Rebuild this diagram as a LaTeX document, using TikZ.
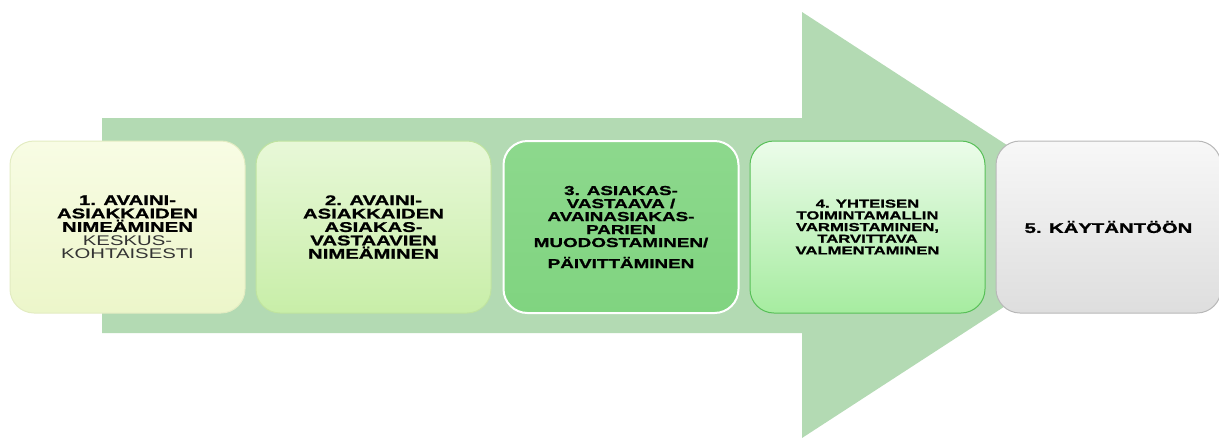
\documentclass[tikz,border=0pt]{standalone}
\usepackage{fontspec}
\newfontfamily\stepfont{Liberation Sans}[FakeStretch=1.45, BoldFeatures={FakeBold=1.2}]
\usetikzlibrary{positioning}

\definecolor{arrowgreen}{RGB}{179,218,179}
\definecolor{paleyellow}{RGB}{248,252,228}
\definecolor{paleyellowb}{RGB}{236,246,202}
\definecolor{palegreen}{RGB}{232,248,216}
\definecolor{palegreenb}{RGB}{200,238,168}
\definecolor{midgreen}{RGB}{128,212,128}
\definecolor{lightgreen}{RGB}{236,252,234}
\definecolor{lightgreenb}{RGB}{166,236,160}
\definecolor{darkgreen}{RGB}{88,192,88}

\tikzset{
    stepbox/.style 2 args={draw, rounded corners=24pt, minimum width=235pt,
        minimum height=172pt, align=center, inner sep=2pt, line width=1pt,
        font=\stepfont\bfseries\fontsize{#1}{#2}\selectfont},
}

\begin{document}
\begin{tikzpicture}[x=1pt,y=-1pt]
    \useasboundingbox (0,0) rectangle (1219,437);
    \fill[arrowgreen] (102,118) -- (802,118) -- (802,12) -- (1130,225)
        -- (802,438) -- (802,333) -- (102,333) -- cycle;

    \node[stepbox={14}{13.4}, draw=paleyellowb!80!black!20!paleyellowb, top color=paleyellow, bottom color=paleyellowb]
        (s1) at (127.5,227) {1. AVAINI-\\ASIAKKAIDEN\\NIMEÄMINEN\\
        {\mdseries\color{black!80}KESKUS-}\\{\mdseries\color{black!80}KOHTAISESTI}};
    \node[stepbox={14}{13.4}, draw=palegreenb!85!black!30!palegreenb, top color=palegreen, bottom color=palegreenb,
        right=10pt of s1] (s2) {2. AVAINI-\\ASIAKKAIDEN\\ASIAKAS-\\VASTAAVIEN\\NIMEÄMINEN};
    \node[stepbox={13}{13}, draw=white, line width=2pt, top color=midgreen!90!white, bottom color=midgreen,
        right=11pt of s2] (s3) {3. ASIAKAS-\\VASTAAVA /\\AVAINASIAKAS-\\PARIEN\\MUODOSTAMINEN/\\[8pt]PÄIVITTÄMINEN};
    \node[stepbox={11.5}{11.7}, draw=darkgreen, top color=lightgreen, bottom color=lightgreenb,
        right=10pt of s3] (s4) {4. YHTEISEN\\TOIMINTAMALLIN\\VARMISTAMINEN,\\TARVITTAVA\\VALMENTAMINEN};
    \node[stepbox={14}{14}, draw=black!28, top color=white!97!black, bottom color=black!13,
        minimum width=225pt, right=10pt of s4] (s5) {5. KÄYTÄNTÖÖN};
\end{tikzpicture}
\end{document}
